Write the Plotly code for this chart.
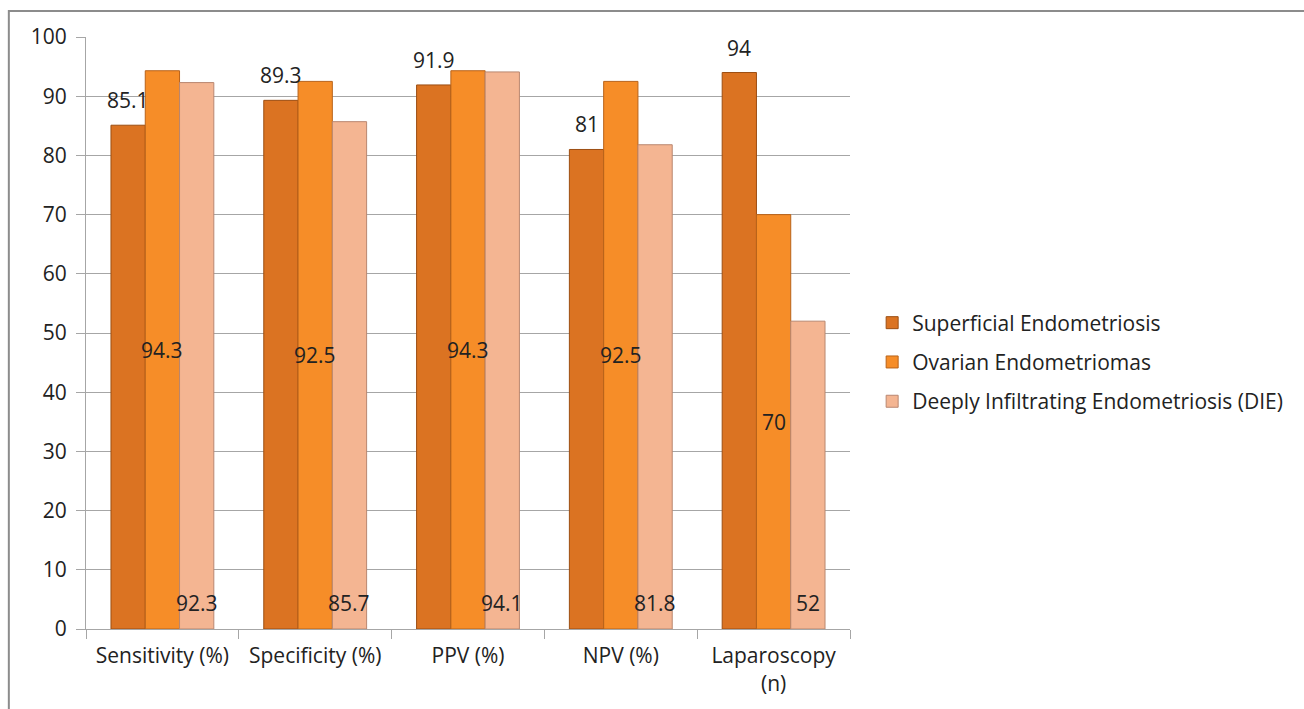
import plotly.graph_objects as go

# Diagnostic performance by endometriosis type
categories = ["Sensitivity (%)", "Specificity (%)", "PPV (%)", "NPV (%)", "Laparoscopy<br>(n)"]
series_names = [
    "Superficial Endometriosis",
    "Ovarian Endometriomas",
    "Deeply Infiltrating Endometriosis (DIE)",
]
superficial = [85.1, 89.3, 91.9, 81, 94]
ovarian = [94.3, 92.5, 94.3, 92.5, 70]
die = [92.3, 85.7, 94.1, 81.8, 52]

y_ticks = [0, 10, 20, 30, 40, 50, 60, 70, 80, 90, 100]

FONT = "'Open Sans', Lato, sans-serif"
TEXT = "#222222"
fills = ["#DB7322", "#F68D28", "#F4B592"]
edges = ["#9C4E12", "#B8631A", "#B98770"]

BARGAP = 0.327
slot = (1 - BARGAP) / 3
offsets = [-slot, 0.0, slot]

fig = go.Figure()
for i, (name, vals) in enumerate(zip(series_names, [superficial, ovarian, die])):
    fig.add_trace(go.Bar(
        x=categories, y=vals, name=name,
        marker=dict(color=fills[i], line=dict(color=edges[i], width=1)),
        legendgroup=f"g{i}",
        hoverinfo="x+y+name",
    ))

annotations = []
for j in range(len(categories)):
    # Superficial: value above the bar
    annotations.append(dict(
        x=j + offsets[0], y=superficial[j], xref="x", yref="y",
        text=f"{superficial[j]:g}", showarrow=False, yanchor="bottom", yshift=9,
        font=dict(family=FONT, size=21, color=TEXT)))
    # Ovarian: value at mid-height
    annotations.append(dict(
        x=j + offsets[1], y=ovarian[j] / 2, xref="x", yref="y",
        text=f"{ovarian[j]:g}", showarrow=False, yanchor="middle",
        font=dict(family=FONT, size=21, color=TEXT)))
    # DIE: value near the base
    annotations.append(dict(
        x=j + offsets[2], y=0, xref="x", yref="y",
        text=f"{die[j]:g}", showarrow=False, yanchor="bottom", yshift=10,
        font=dict(family=FONT, size=21, color=TEXT)))

fig.update_layout(
    width=1304, height=709,
    margin=dict(l=86, r=454, t=37, b=80),
    paper_bgcolor="white", plot_bgcolor="white",
    barmode="group", bargap=BARGAP, bargroupgap=0,
    font=dict(family=FONT, size=21, color=TEXT),
    showlegend=True,
    legend=dict(
        x=1.029, y=0.451, xanchor="left", yanchor="middle",
        font=dict(family=FONT, size=21, color=TEXT),
        tracegroupgap=9, itemwidth=30, bgcolor="rgba(0,0,0,0)",
    ),
    annotations=annotations,
    shapes=[dict(
        type="rect", xref="paper", yref="paper",
        x0=-0.101, x1=1.8, y0=-0.2, y1=1.044,
        line=dict(color="#8C8C8C", width=2), fillcolor="rgba(0,0,0,0)", layer="below",
    )],
)

fig.update_xaxes(
    showgrid=False, showline=True, linecolor="#A6A6A6", linewidth=1,
    ticks="outside", tickson="boundaries", ticklen=9, tickcolor="#A6A6A6",
    ticklabelstandoff=8,
    tickfont=dict(family=FONT, size=21, color=TEXT), fixedrange=True,
)
fig.update_yaxes(
    range=[0, 100], tickvals=y_ticks, showgrid=True, gridcolor="#A6A6A6", gridwidth=1,
    showline=True, linecolor="#A6A6A6", linewidth=1, zeroline=False,
    ticks="outside", ticklen=9, tickcolor="#A6A6A6", ticklabelstandoff=5,
    tickfont=dict(family=FONT, size=21, color=TEXT), fixedrange=True,
)

fig.write_html("out.html")
